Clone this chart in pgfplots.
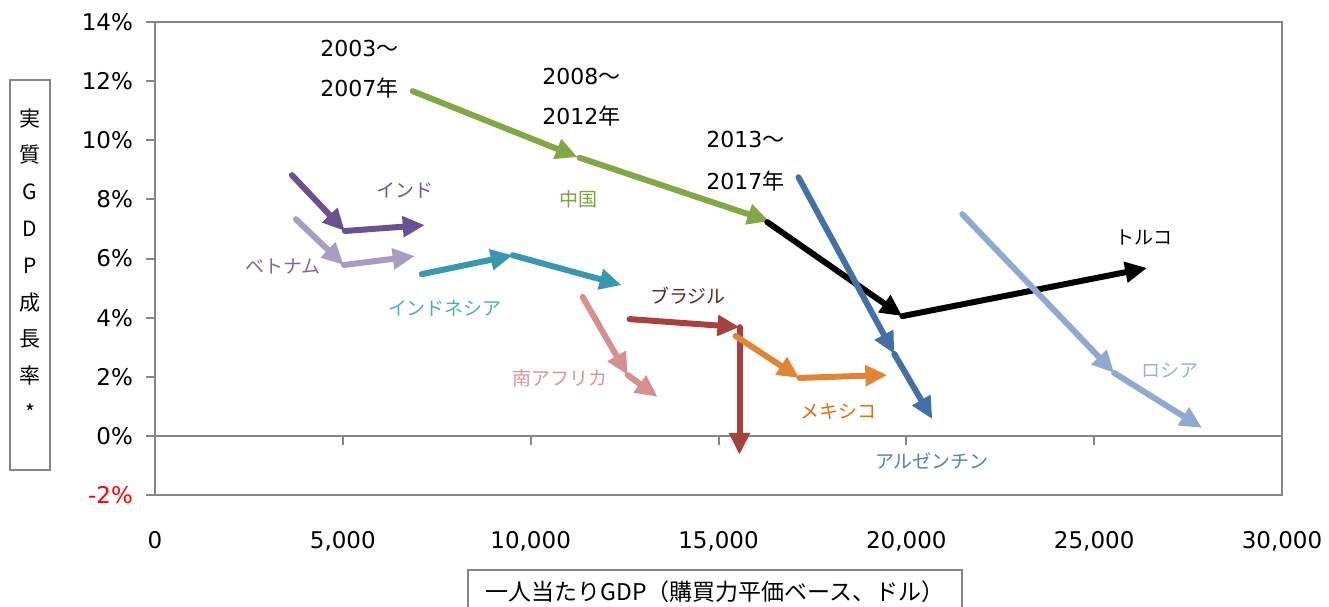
\documentclass[border=0pt]{standalone}
\usepackage{pgfplots}
\pgfplotsset{compat=1.18}
\usetikzlibrary{arrows.meta}
\usepackage{fontspec}
\setmainfont{Noto Sans CJK JP}
\newfontfamily\dv{DejaVu Sans}
\definecolor{axgray}{HTML}{868686}
\definecolor{cChina}{HTML}{84A746}
\definecolor{cIndia}{HTML}{6B5192}
\definecolor{cViet}{HTML}{A99BC4}
\definecolor{cIndo}{HTML}{3A97B0}
\definecolor{cSA}{HTML}{D48F8E}
\definecolor{cBra}{HTML}{A7403E}
\definecolor{cMex}{HTML}{E08535}
\definecolor{cArg}{HTML}{4470A8}
\definecolor{cRus}{HTML}{8FA9D0}
\definecolor{tIndia}{HTML}{6E5494}
\definecolor{tViet}{HTML}{7F66A6}
\definecolor{tIndo}{HTML}{4BACC6}
\definecolor{tSA}{HTML}{D99594}
\definecolor{tBra}{HTML}{632523}
\definecolor{tChina}{HTML}{77A33D}
\definecolor{tMex}{HTML}{E46C0A}
\definecolor{tArg}{HTML}{4F81BD}
\definecolor{tRus}{HTML}{95B3D7}
\begin{document}
\begin{tikzpicture}[x=1pt,y=1pt]
\useasboundingbox (-77.5,-55.5) rectangle (587,247.5);
\begin{axis}[
  at={(0,0)}, anchor=south west, scale only axis,
  width=563.5pt, height=236.5pt,
  xmin=0, xmax=30000, ymin=-2, ymax=14,
  clip=false, no markers,
  scaled x ticks=false, scaled y ticks=false,
  axis line style={draw=axgray, line width=1pt},
  ytick={-2,0,2,4,6,8,10,12,14},
  yticklabels={\textcolor{red}{-2\%},0\%,2\%,4\%,6\%,8\%,10\%,12\%,14\%},
  ytick pos=left, tick align=outside,
  major tick length=4.5pt,
  ytick style={draw=axgray, line width=1pt},
  yticklabel style={font=\dv\fontsize{11.5}{13}\selectfont, xshift=-3pt},
  xtick={0,5000,10000,15000,20000,25000,30000},
  xticklabels={0,{5,000},{10,000},{15,000},{20,000},{25,000},{30,000}},
  xtick pos=bottom,
  xtick style={draw=none},
  xticklabel style={font=\dv\fontsize{11.5}{13}\selectfont, yshift=-10pt},
  arr/.style={line width=3pt, line cap=round, -{Triangle[length=11pt,width=10pt]}},
]
\addplot[axgray, line width=1pt] coordinates {(0,0) (30000,0)};
\draw[axgray, line width=1pt] (axis cs:5000,0) -- (axis cs:5000,-0.3);
\draw[axgray, line width=1pt] (axis cs:10000,0) -- (axis cs:10000,-0.3);
\draw[axgray, line width=1pt] (axis cs:15000,0) -- (axis cs:15000,-0.3);
\draw[axgray, line width=1pt] (axis cs:20000,0) -- (axis cs:20000,-0.3);
\draw[axgray, line width=1pt] (axis cs:25000,0) -- (axis cs:25000,-0.3);
% China
\addplot[arr, cChina] coordinates {(6862,11.66) (11250,9.43)};
\addplot[arr, cChina] coordinates {(11300,9.41) (16356,7.26)};
% Turkey
\addplot[arr, black] coordinates {(16300,7.23) (19894,4.05)};
\addplot[arr, black] coordinates {(19894,4.05) (26410,5.68)};
% India
\addplot[arr, cIndia] coordinates {(3644,8.82) (5053,6.93)};
\addplot[arr, cIndia] coordinates {(5053,6.93) (7181,7.13)};
% Vietnam
\addplot[arr, cViet] coordinates {(3750,7.33) (5027,5.78)};
\addplot[arr, cViet] coordinates {(5027,5.78) (6915,6.08)};
% Indonesia
\addplot[arr, cIndo] coordinates {(7101,5.47) (9521,6.11)};
\addplot[arr, cIndo] coordinates {(9521,6.11) (12420,5.10)};
% South Africa
\addplot[arr, cSA] coordinates {(11383,4.70) (12580,2.06)};
\addplot[arr, cSA] coordinates {(12580,2.06) (13378,1.32)};
% Brazil
\addplot[arr, cBra] coordinates {(12633,3.95) (15559,3.68)};
\addplot[arr, cBra] coordinates {(15559,3.68) (15559,-0.64)};
% Mexico
\addplot[arr, cMex] coordinates {(15452,3.38) (17154,1.96)};
\addplot[arr, cMex] coordinates {(17154,1.96) (19495,2.06)};
% Argentina
\addplot[arr, cArg] coordinates {(17128,8.75) (19681,2.77)};
\addplot[arr, cArg] coordinates {(19681,2.77) (20691,0.57)};
% Russia
\addplot[arr, cRus] coordinates {(21489,7.50) (25532,2.13)};
\addplot[arr, cRus] coordinates {(25532,2.13) (27872,0.27)};
\end{axis}
% country labels
\begin{scope}[every node/.style={font=\fontsize{9.5}{11}\selectfont, inner sep=0pt}]
\node[text=tIndia] at (125,152.5) {インド};
\node[text=tViet] at (64,114) {ベトナム};
\node[text=tIndo] at (145,93.5) {インドネシア};
\node[text=tSA] at (202.5,58.5) {南アフリカ};
\node[text=tBra] at (266.5,99.5) {ブラジル};
\node[text=tChina] at (211.5,148) {中国};
\node[text=tMex] at (341.5,42) {メキシコ};
\node[text=tArg] at (388.5,17) {アルゼンチン};
\node[text=tRus] at (507.5,62) {ロシア};
\node[text=black] at (494.5,129) {トルコ};
\end{scope}
% year labels
\begin{scope}[every node/.style={font=\fontsize{11}{13}\selectfont, inner sep=0pt, anchor=west}]
\node at (82.5,223.5) {{\dv 2003}～};
\node at (82.5,203.5) {{\dv 2007}年};
\node at (193.5,209.5) {{\dv 2008}～};
\node at (193.5,189.5) {{\dv 2012}年};
\node at (275.5,178) {{\dv 2013}～};
\node at (275.5,157) {{\dv 2017}年};
\end{scope}
% axis title boxes
\draw[axgray, line width=1pt] (-72.5,12.5) rectangle (-52.5,207.5);
\node[align=center, inner sep=0pt, font=\fontsize{10.5}{18.4}\selectfont] at (-62.5,115.25) {実\\質\\G\\D\\P\\成\\長\\率\\*};
\draw[axgray, line width=1pt] (156.5,-37.5) rectangle (403.5,-70);
\node[inner sep=0pt, font=\fontsize{11.5}{13}\selectfont] at (280,-48.5) {一人当たりGDP（購買力平価ベース、ドル）};
\end{tikzpicture}
\end{document}
